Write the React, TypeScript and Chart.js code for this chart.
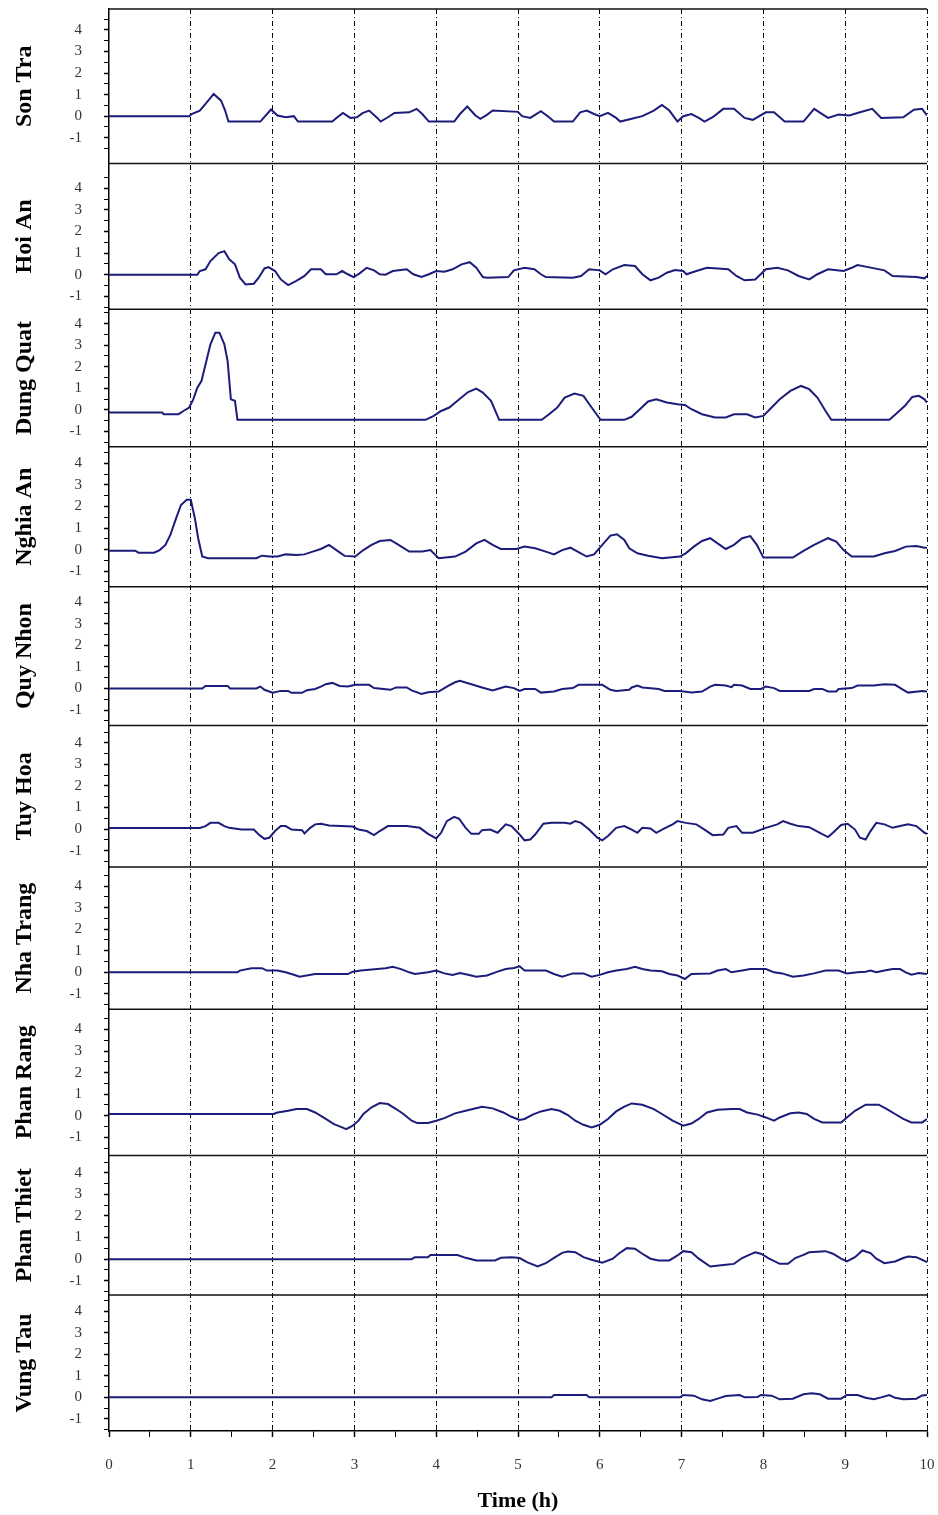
import React, { useEffect, useRef } from 'react';
import { Chart, registerables } from 'chart.js';

Chart.register(...registerables);

const stationNames = ['Son Tra', 'Hoi An', 'Dung Quat', 'Nghia An', 'Quy Nhon', 'Tuy Hoa', 'Nha Trang', 'Phan Rang', 'Phan Thiet', 'Vung Tau'];

const xTickValues = [0, 0.5, 1, 1.5, 2, 2.5, 3, 3.5, 4, 4.5, 5, 5.5, 6, 6.5, 7, 7.5, 8, 8.5, 9, 9.5, 10];
const yTickValues = [-1.5, -1, -0.5, 0, 0.5, 1, 1.5, 2, 2.5, 3, 3.5, 4, 4.5];
const yLabelValues = [-1, 0, 1, 2, 3, 4];

const panelMin = [-2.2, -1.6, -1.71, -1.72, -1.71, -1.76, -1.71, -1.84, -1.66, -1.56];
const panelMax = [4.97, 5.15, 4.67, 4.77, 4.72, 4.81, 4.88, 4.94, 4.81, 4.75];

// [time (h), water level (m)]
const sonTra: [number, number][] = [[0,0],[0.98,0],[1.01,0.1],[1.11,0.26],[1.18,0.57],[1.28,1.03],[1.37,0.72],[1.42,0.26],[1.46,-0.25],[1.85,-0.25],[1.98,0.31],[2.06,0.03],[2.16,-0.05],[2.26,0],[2.31,-0.25],[2.73,-0.25],[2.78,-0.08],[2.86,0.15],[2.95,-0.08],[3.03,-0.05],[3.10,0.14],[3.18,0.26],[3.28,-0.08],[3.32,-0.25],[3.41,-0.05],[3.49,0.15],[3.67,0.18],[3.76,0.34],[3.83,0.1],[3.91,-0.25],[4.22,-0.25],[4.29,0.1],[4.38,0.45],[4.48,0.03],[4.54,-0.12],[4.62,0.06],[4.69,0.26],[5.0,0.2],[5.05,0],[5.15,-0.08],[5.28,0.23],[5.38,-0.05],[5.44,-0.25],[5.67,-0.25],[5.76,0.18],[5.84,0.26],[5.93,0.1],[6.0,0],[6.10,0.15],[6.20,-0.08],[6.25,-0.25],[6.39,-0.12],[6.52,0],[6.66,0.26],[6.76,0.52],[6.85,0.26],[6.95,-0.25],[7.02,0],[7.12,0.1],[7.21,-0.08],[7.28,-0.25],[7.38,-0.05],[7.51,0.34],[7.64,0.34],[7.77,-0.08],[7.87,-0.17],[8.03,0.18],[8.13,0.18],[8.26,-0.25],[8.49,-0.25],[8.62,0.34],[8.79,-0.08],[8.92,0.08],[9.05,0.03],[9.18,0.18],[9.33,0.34],[9.44,-0.08],[9.71,-0.05],[9.84,0.3],[9.94,0.34],[10.0,0.03]];

const hoiAn: [number, number][] = [[0,0],[1.08,0],[1.11,0.17],[1.18,0.25],[1.24,0.63],[1.34,1.0],[1.41,1.09],[1.47,0.71],[1.54,0.48],[1.60,-0.14],[1.67,-0.45],[1.77,-0.42],[1.83,-0.14],[1.90,0.29],[1.95,0.35],[2.03,0.17],[2.10,-0.22],[2.19,-0.48],[2.29,-0.29],[2.39,-0.06],[2.47,0.25],[2.59,0.25],[2.65,0.02],[2.78,0.02],[2.85,0.17],[2.92,0.02],[2.99,-0.11],[3.06,0.05],[3.15,0.32],[3.24,0.2],[3.31,0.02],[3.38,0],[3.47,0.17],[3.64,0.25],[3.72,0.02],[3.82,-0.11],[3.91,0.02],[4.0,0.17],[4.10,0.14],[4.20,0.25],[4.31,0.48],[4.41,0.58],[4.49,0.32],[4.57,-0.11],[4.62,-0.14],[4.88,-0.11],[4.95,0.2],[5.08,0.32],[5.20,0.25],[5.28,0.02],[5.34,-0.11],[5.67,-0.14],[5.77,-0.06],[5.87,0.25],[6.0,0.2],[6.07,0.02],[6.16,0.25],[6.30,0.45],[6.43,0.4],[6.52,0.02],[6.62,-0.26],[6.72,-0.14],[6.82,0.09],[6.92,0.22],[7.02,0.17],[7.06,0.02],[7.18,0.17],[7.31,0.32],[7.57,0.25],[7.67,-0.06],[7.77,-0.26],[7.90,-0.22],[8.03,0.25],[8.17,0.32],[8.30,0.2],[8.43,-0.06],[8.56,-0.22],[8.66,0.02],[8.79,0.25],[8.98,0.17],[9.08,0.32],[9.15,0.45],[9.28,0.35],[9.48,0.2],[9.58,-0.06],[9.87,-0.11],[9.97,-0.17],[10.0,-0.06]];

const dungQuat: [number, number][] = [[0,-0.12],[0.65,-0.12],[0.67,-0.2],[0.85,-0.2],[0.91,-0.05],[0.98,0.11],[1.03,0.49],[1.08,1.03],[1.13,1.34],[1.18,2.11],[1.24,3.04],[1.30,3.58],[1.35,3.58],[1.41,3.04],[1.45,2.27],[1.49,0.49],[1.54,0.42],[1.57,-0.46],[3.87,-0.46],[3.97,-0.28],[4.06,-0.05],[4.16,0.11],[4.26,0.42],[4.39,0.83],[4.49,0.99],[4.57,0.8],[4.67,0.42],[4.77,-0.46],[5.29,-0.46],[5.38,-0.2],[5.48,0.11],[5.57,0.57],[5.69,0.76],[5.80,0.65],[5.90,0.11],[6.01,-0.46],[6.30,-0.46],[6.39,-0.32],[6.49,0.03],[6.59,0.39],[6.69,0.49],[6.82,0.34],[6.95,0.26],[7.04,0.23],[7.12,0.03],[7.25,-0.2],[7.41,-0.35],[7.54,-0.35],[7.64,-0.2],[7.80,-0.2],[7.90,-0.35],[8.0,-0.28],[8.10,0.11],[8.20,0.49],[8.33,0.88],[8.46,1.11],[8.56,0.96],[8.66,0.57],[8.76,-0.05],[8.83,-0.46],[9.54,-0.46],[9.64,-0.12],[9.73,0.19],[9.82,0.6],[9.90,0.65],[9.97,0.49],[10.0,0.34]];

const nghiaAn: [number, number][] = [[0,-0.05],[0.32,-0.05],[0.36,-0.14],[0.55,-0.14],[0.62,-0.02],[0.69,0.22],[0.75,0.68],[0.82,1.45],[0.88,2.07],[0.95,2.31],[1.0,2.31],[1.05,1.45],[1.09,0.53],[1.14,-0.32],[1.21,-0.4],[1.80,-0.4],[1.87,-0.28],[1.96,-0.32],[2.06,-0.32],[2.16,-0.22],[2.29,-0.25],[2.39,-0.22],[2.49,-0.09],[2.59,0.03],[2.69,0.22],[2.78,-0.02],[2.88,-0.29],[3.01,-0.32],[3.11,-0.02],[3.21,0.22],[3.31,0.4],[3.44,0.45],[3.54,0.22],[3.67,-0.09],[3.83,-0.09],[3.93,-0.02],[4.03,-0.4],[4.23,-0.32],[4.36,-0.09],[4.49,0.29],[4.59,0.45],[4.69,0.22],[4.79,0.03],[4.98,0.03],[5.08,0.14],[5.21,0.06],[5.34,-0.09],[5.44,-0.22],[5.54,-0.02],[5.64,0.09],[5.74,-0.12],[5.84,-0.32],[5.93,-0.22],[6.03,0.22],[6.13,0.65],[6.21,0.71],[6.30,0.45],[6.36,0.06],[6.46,-0.17],[6.59,-0.28],[6.76,-0.4],[6.98,-0.32],[7.05,-0.17],[7.15,0.14],[7.25,0.4],[7.35,0.53],[7.44,0.29],[7.54,0.03],[7.64,0.22],[7.74,0.53],[7.84,0.63],[7.92,0.22],[8.0,-0.37],[8.36,-0.37],[8.49,-0.06],[8.62,0.22],[8.79,0.53],[8.89,0.37],[8.98,-0.02],[9.08,-0.32],[9.35,-0.32],[9.48,-0.17],[9.61,-0.06],[9.74,0.14],[9.87,0.17],[9.97,0.09],[10.0,0.09]];

const quyNhon: [number, number][] = [[0,0],[1.14,0],[1.18,0.12],[1.45,0.12],[1.48,0],[1.80,0],[1.85,0.09],[1.90,-0.06],[2.0,-0.19],[2.10,-0.11],[2.19,-0.11],[2.23,-0.2],[2.36,-0.2],[2.42,-0.08],[2.52,-0.02],[2.59,0.09],[2.65,0.2],[2.73,0.26],[2.82,0.12],[2.92,0.09],[3.01,0.17],[3.18,0.17],[3.24,0.02],[3.44,-0.06],[3.51,0.05],[3.64,0.05],[3.70,-0.09],[3.82,-0.25],[3.90,-0.17],[4.03,-0.14],[4.13,0.09],[4.23,0.29],[4.29,0.36],[4.43,0.2],[4.56,0.05],[4.69,-0.09],[4.79,0.02],[4.85,0.09],[4.95,0.02],[5.02,-0.11],[5.08,-0.02],[5.21,-0.02],[5.28,-0.19],[5.44,-0.14],[5.54,-0.02],[5.67,0.02],[5.74,0.17],[6.03,0.17],[6.13,-0.06],[6.20,-0.11],[6.36,-0.06],[6.39,0.05],[6.46,0.14],[6.52,0.05],[6.72,-0.02],[6.79,-0.11],[6.98,-0.11],[7.12,-0.19],[7.25,-0.14],[7.35,0.09],[7.41,0.17],[7.54,0.14],[7.61,0.06],[7.64,0.17],[7.74,0.14],[7.84,-0.02],[7.97,-0.02],[8.03,0.09],[8.13,0.02],[8.20,-0.11],[8.56,-0.11],[8.62,-0.02],[8.72,-0.02],[8.79,-0.14],[8.89,-0.14],[8.92,-0.02],[9.08,0.02],[9.15,0.14],[9.35,0.14],[9.48,0.2],[9.61,0.17],[9.71,-0.06],[9.77,-0.19],[9.94,-0.11],[10.0,-0.14]];

const tuyHoa: [number, number][] = [[0,0.05],[1.11,0.05],[1.18,0.14],[1.24,0.29],[1.34,0.29],[1.41,0.14],[1.47,0.06],[1.62,-0.02],[1.77,-0.02],[1.83,-0.25],[1.90,-0.45],[1.96,-0.4],[2.03,-0.09],[2.10,0.14],[2.16,0.14],[2.23,-0.02],[2.36,-0.05],[2.39,-0.2],[2.46,0.06],[2.52,0.22],[2.59,0.25],[2.69,0.17],[2.98,0.12],[3.05,-0.02],[3.15,-0.09],[3.24,-0.28],[3.31,-0.09],[3.41,0.14],[3.64,0.14],[3.80,0.06],[3.90,-0.22],[4.0,-0.43],[4.06,-0.17],[4.13,0.37],[4.22,0.57],[4.28,0.48],[4.36,0.06],[4.43,-0.22],[4.52,-0.22],[4.56,-0.05],[4.66,-0.02],[4.75,-0.17],[4.79,-0.02],[4.85,0.22],[4.92,0.14],[5.02,-0.25],[5.08,-0.52],[5.15,-0.48],[5.21,-0.25],[5.31,0.25],[5.41,0.29],[5.57,0.29],[5.64,0.25],[5.70,0.37],[5.77,0.29],[5.87,-0.02],[5.97,-0.4],[6.03,-0.52],[6.10,-0.32],[6.20,0.06],[6.30,0.14],[6.39,-0.02],[6.46,-0.17],[6.52,0.06],[6.62,0.03],[6.69,-0.17],[6.79,0.03],[6.89,0.22],[6.95,0.37],[7.05,0.29],[7.18,0.22],[7.28,-0.02],[7.38,-0.28],[7.51,-0.25],[7.57,0.06],[7.67,0.14],[7.74,-0.17],[7.87,-0.17],[8.03,0.06],[8.17,0.22],[8.24,0.37],[8.33,0.25],[8.43,0.14],[8.56,0.09],[8.69,-0.17],[8.79,-0.37],[8.85,-0.17],[8.95,0.19],[9.03,0.25],[9.12,-0.02],[9.18,-0.4],[9.25,-0.48],[9.31,-0.09],[9.38,0.29],[9.48,0.22],[9.58,0.06],[9.67,0.14],[9.77,0.22],[9.87,0.14],[9.97,-0.17],[10.0,-0.22]];

const nhaTrang: [number, number][] = [[0,0],[1.57,0],[1.60,0.08],[1.74,0.19],[1.87,0.19],[1.93,0.08],[2.06,0.08],[2.16,0],[2.26,-0.11],[2.33,-0.2],[2.52,-0.08],[2.92,-0.08],[2.98,0.03],[3.08,0.08],[3.28,0.15],[3.38,0.19],[3.47,0.26],[3.57,0.15],[3.67,0],[3.74,-0.08],[3.90,0],[4.0,0.08],[4.10,-0.05],[4.20,-0.12],[4.29,-0.03],[4.39,-0.11],[4.49,-0.2],[4.62,-0.15],[4.75,0.03],[4.85,0.15],[4.95,0.2],[5.02,0.28],[5.08,0.08],[5.34,0.08],[5.44,-0.08],[5.54,-0.2],[5.67,-0.05],[5.80,-0.05],[5.90,-0.2],[6.0,-0.12],[6.10,0],[6.20,0.08],[6.33,0.15],[6.43,0.26],[6.52,0.15],[6.62,0.08],[6.76,0.05],[6.85,-0.08],[6.95,-0.15],[7.04,-0.31],[7.12,-0.08],[7.35,-0.05],[7.44,0.08],[7.54,0.15],[7.61,0],[7.74,0.08],[7.84,0.15],[8.03,0.15],[8.13,0],[8.23,-0.05],[8.36,-0.2],[8.49,-0.15],[8.62,-0.05],[8.76,0.08],[8.92,0.08],[9.02,-0.05],[9.15,0],[9.25,0.03],[9.31,0.08],[9.38,0],[9.48,0.08],[9.58,0.15],[9.67,0.15],[9.74,0],[9.81,-0.11],[9.90,-0.03],[10.0,-0.08]];

const phanRang: [number, number][] = [[0,0.08],[2.01,0.08],[2.06,0.15],[2.19,0.23],[2.29,0.31],[2.42,0.31],[2.52,0.15],[2.65,-0.15],[2.75,-0.39],[2.85,-0.54],[2.90,-0.62],[2.98,-0.46],[3.05,-0.23],[3.11,0.08],[3.21,0.39],[3.31,0.59],[3.41,0.54],[3.51,0.31],[3.60,0.08],[3.70,-0.23],[3.77,-0.34],[3.90,-0.34],[4.0,-0.23],[4.10,-0.11],[4.23,0.11],[4.36,0.23],[4.56,0.42],[4.69,0.34],[4.82,0.15],[4.92,-0.05],[5.02,-0.2],[5.08,-0.15],[5.18,0.05],[5.28,0.2],[5.41,0.31],[5.51,0.23],[5.61,0.03],[5.70,-0.23],[5.80,-0.42],[5.90,-0.54],[6.0,-0.42],[6.10,-0.15],[6.20,0.2],[6.30,0.42],[6.39,0.57],[6.52,0.51],[6.66,0.31],[6.76,0.08],[6.89,-0.23],[7.02,-0.46],[7.12,-0.36],[7.21,-0.15],[7.31,0.15],[7.44,0.28],[7.61,0.31],[7.71,0.31],[7.80,0.15],[7.93,0.05],[8.03,-0.08],[8.13,-0.23],[8.20,-0.08],[8.33,0.11],[8.43,0.15],[8.53,0.08],[8.62,-0.15],[8.72,-0.31],[8.95,-0.31],[9.02,-0.08],[9.12,0.23],[9.25,0.51],[9.41,0.51],[9.51,0.31],[9.61,0.08],[9.71,-0.15],[9.81,-0.31],[9.94,-0.31],[10.0,-0.15]];

const phanThiet: [number, number][] = [[0,0],[3.70,0],[3.74,0.09],[3.90,0.09],[3.93,0.19],[4.26,0.19],[4.36,0.06],[4.49,-0.06],[4.72,-0.06],[4.79,0.06],[4.92,0.09],[5.02,0.05],[5.11,-0.14],[5.24,-0.34],[5.34,-0.19],[5.44,0.06],[5.54,0.29],[5.61,0.35],[5.70,0.32],[5.80,0.09],[5.90,-0.03],[6.03,-0.17],[6.16,0.02],[6.23,0.25],[6.33,0.51],[6.43,0.48],[6.52,0.25],[6.62,0.02],[6.72,-0.06],[6.85,-0.06],[6.95,0.17],[7.02,0.37],[7.12,0.32],[7.21,0.02],[7.35,-0.34],[7.54,-0.26],[7.64,-0.22],[7.74,0.05],[7.84,0.22],[7.90,0.32],[7.97,0.25],[8.07,0.02],[8.20,-0.22],[8.30,-0.22],[8.39,0.05],[8.49,0.2],[8.56,0.32],[8.76,0.37],[8.85,0.25],[8.95,0.02],[9.02,-0.11],[9.12,0.09],[9.21,0.4],[9.31,0.28],[9.38,0.02],[9.48,-0.19],[9.61,-0.11],[9.71,0.05],[9.77,0.12],[9.87,0.09],[10.0,-0.14]];

const vungTau: [number, number][] = [[0,0],[5.41,0],[5.44,0.11],[5.84,0.11],[5.87,0],[6.98,0],[7.02,0.11],[7.15,0.08],[7.25,-0.09],[7.35,-0.17],[7.44,-0.06],[7.54,0.06],[7.71,0.11],[7.77,0],[7.93,0.02],[7.97,0.11],[8.10,0.08],[8.20,-0.09],[8.36,-0.06],[8.49,0.14],[8.59,0.19],[8.69,0.14],[8.79,-0.06],[8.95,-0.06],[9.02,0.11],[9.15,0.11],[9.25,-0.02],[9.35,-0.09],[9.44,0],[9.54,0.11],[9.61,-0.02],[9.71,-0.09],[9.87,-0.06],[9.94,0.09],[10.0,0.11]];

const stationSeries = [sonTra, hoiAn, dungQuat, nghiaAn, quyNhon, tuyHoa, nhaTrang, phanRang, phanThiet, vungTau];

const FONT = "'Liberation Serif', 'Times New Roman', serif";
const LINE_COLOR = '#1c1c7a';

const zeroPadding = (s: any) => {
  s.paddingTop = 0;
  s.paddingBottom = 0;
  s.paddingLeft = 0;
  s.paddingRight = 0;
};

const separatorPlugin = {
  id: 'panelSeparators',
  afterDatasetsDraw(chart: any) {
    const { ctx, chartArea } = chart;
    ctx.save();
    ctx.strokeStyle = '#111';
    ctx.lineWidth = 1.5;
    stationNames.forEach((_, i) => {
      const s = chart.scales['y' + i];
      if (!s) return;
      ctx.beginPath();
      ctx.moveTo(chartArea.left, s.top);
      ctx.lineTo(chartArea.right, s.top);
      ctx.stroke();
    });
    ctx.restore();
  },
};

export default function App() {
  const canvasRef = useRef<HTMLCanvasElement>(null);

  useEffect(() => {
    if (!canvasRef.current) return;
    Chart.defaults.font.family = FONT;

    const scales: any = {
      x: {
        type: 'linear',
        position: 'bottom',
        min: 0,
        max: 10,
        afterBuildTicks: (s: any) => {
          s.ticks = xTickValues.map((v) => ({ value: v }));
        },
        afterFit: (s: any) => {
          s.height = 84;
          zeroPadding(s);
        },
        ticks: {
          autoSkip: false,
          maxRotation: 0,
          padding: 19,
          color: '#333',
          font: { size: 15 },
          callback: (v: any) => (Number.isInteger(v) ? String(v) : ''),
        },
        grid: {
          drawOnChartArea: true,
          color: (c: any) => {
            const v = c.tick ? c.tick.value : 0;
            return Number.isInteger(v) && v > 0 ? '#000' : 'rgba(0,0,0,0)';
          },
          lineWidth: 1,
          tickLength: 6,
          tickColor: '#000',
          tickWidth: (c: any) => (c.tick && Number.isInteger(c.tick.value) ? 1.5 : 1),
        },
        border: { display: true, color: '#000', width: 1.5, dash: [5, 3, 1, 3] },
        title: {
          display: true,
          text: 'Time (h)',
          color: '#000',
          font: { size: 22, weight: 'bold' },
          padding: { top: 0, bottom: 0 },
        },
      },
    };

    stationNames.forEach((name, i) => {
      scales['y' + i] = {
        type: 'linear',
        position: 'left',
        stack: 'panels',
        stackWeight: panelMax[i] - panelMin[i],
        weight: stationNames.length - i,
        min: panelMin[i],
        max: panelMax[i],
        afterBuildTicks: (s: any) => {
          s.ticks = yTickValues.map((v) => ({ value: v }));
        },
        afterFit: (s: any) => {
          s.width = 109;
          zeroPadding(s);
        },
        ticks: {
          autoSkip: false,
          padding: 22,
          color: '#333',
          font: { size: 15 },
          callback: (v: any) => (yLabelValues.includes(v) ? String(v) : ''),
        },
        grid: {
          drawOnChartArea: false,
          tickLength: 5,
          tickColor: '#000',
          tickWidth: (c: any) => (c.tick && Number.isInteger(c.tick.value) ? 1.5 : 1),
        },
        border: { display: true, color: '#000', width: 1.5 },
        title: {
          display: true,
          text: name,
          color: '#000',
          font: { size: 24, weight: 'bold' },
          padding: { top: 10, bottom: 0 },
        },
      };
    });

    const datasets = stationSeries.map((series, i) => ({
      label: stationNames[i],
      data: series.map(([t, v]) => ({ x: t, y: v })),
      yAxisID: 'y' + i,
      xAxisID: 'x',
      borderColor: LINE_COLOR,
      backgroundColor: LINE_COLOR,
      borderWidth: 2,
      pointRadius: 0,
      tension: 0,
      fill: false,
    }));

    const chart = new Chart(canvasRef.current, {
      type: 'line',
      data: { datasets },
      options: {
        animation: false,
        responsive: false,
        devicePixelRatio: 1,
        layout: { padding: { top: 9, right: 11, left: 0, bottom: 0 } },
        plugins: { legend: { display: false }, tooltip: { enabled: false } },
        scales,
      } as any,
      plugins: [separatorPlugin],
    });

    return () => chart.destroy();
  }, []);

  return (
    <div style={{ position: 'absolute', left: 0, top: 0, width: 938, height: 1515, background: '#fff' }}>
      <canvas ref={canvasRef} width={938} height={1515} style={{ display: 'block' }} />
    </div>
  );
}
